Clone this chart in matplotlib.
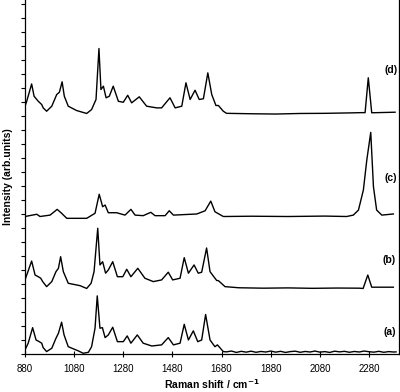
import numpy as np
from matplotlib import pyplot as plt

plt.rcParams['font.family'] = ['Liberation Sans', 'DejaVu Sans']

# Spectre (a)
wn_a = [880, 893, 911, 925, 938, 948, 954, 968, 989, 1006, 1016, 1029, 1039, 1056, 1097, 1117, 1138,
        1151, 1165, 1174, 1185, 1195, 1206, 1219, 1237, 1256, 1280, 1296, 1311, 1337, 1361, 1396,
        1436, 1463, 1484, 1511, 1528, 1545, 1565, 1583, 1599, 1615, 1633, 1653, 1663, 1687,
        1700, 1720, 1740, 1760, 1780, 1800, 1820, 1840, 1860, 1880, 1900, 1920, 1940, 1960, 1980,
        2000, 2020, 2040, 2060, 2080, 2100, 2120, 2140, 2160, 2180, 2200, 2220, 2240, 2260, 2280,
        2300, 2320, 2340, 2360, 2380, 2390]
I_a = [0.18, 0.66, 1.77, 0.89, 0.77, 0.66, 0.34, 0.06, 0.30, 1.01, 1.37, 2.16, 1.25, 0.41, 0.11, -0.06, 0.01,
       0.41, 1.73, 4.04, 1.73, 1.77, 1.06, 1.25, 1.80, 0.77, 0.77, 1.18, 0.66, 1.25, 0.66, 0.46,
       0.54, 1.06, 0.54, 0.66, 2.01, 0.89, 1.54, 0.77, 0.89, 2.71, 0.89, 0.41, 0.54, 0.06,
       0.04, 0.10, 0.00, 0.08, 0.02, 0.09, 0.01, 0.07, 0.03, 0.10, 0.02, 0.08, 0.00, 0.06, 0.09,
       0.01, 0.07, 0.03, 0.10, 0.02, 0.06, 0.00, 0.09, 0.04, 0.08, 0.01, 0.07, 0.03, 0.10, 0.05,
       0.02, 0.08, 0.01, 0.06, 0.03, 0.04]

# Spectre (b)
wn_b = [880, 907, 921, 934, 944, 952, 968, 989, 1006, 1016, 1025, 1036, 1056, 1104, 1131, 1149, 1161,
        1176, 1185, 1196, 1208, 1219, 1237, 1256, 1278, 1294, 1311, 1339, 1368, 1402, 1436, 1463,
        1481, 1511, 1528, 1545, 1568, 1585, 1599, 1619, 1633, 1660, 1667, 1694, 1750, 1850, 1950,
        2050, 2150, 2240, 2256, 2275, 2291, 2379]
I_b = [0.61, 1.96, 0.96, 0.84, 0.73, 0.49, 0.13, 0.49, 1.20, 1.44, 2.27, 1.20, 0.37, 0.20, 0.00, 0.37, 1.20,
       4.30, 1.68, 1.91, 1.09, 1.32, 1.91, 0.84, 0.84, 1.37, 0.84, 1.44, 0.73, 0.49, 0.61, 1.16,
       0.61, 0.73, 2.20, 1.09, 1.68, 1.09, 1.16, 2.89, 1.20, 0.57, 0.56, 0.13, 0.05, 0.02, 0.04,
       0.01, 0.03, 0.02, 0.00, 0.96, 0.09, 0.09]

# Spectre (c)
wn_c = [880, 928, 941, 982, 1011, 1029, 1050, 1131, 1165, 1182, 1196, 1206, 1219, 1253, 1287, 1311,
        1328, 1361, 1392, 1409, 1450, 1467, 1484, 1579, 1613, 1636, 1653, 1687, 1800, 1950, 2100,
        2189, 2216, 2237, 2257, 2271, 2287, 2298, 2311, 2332, 2379]
I_c = [0.00, 0.16, 0.00, 0.10, 0.51, 0.23, -0.13, -0.13, 0.23, 1.59, 0.70, 0.82, 0.27, 0.27, 0.10, 0.51,
       0.10, 0.06, 0.30, 0.06, 0.06, 0.41, 0.10, 0.18, 0.41, 1.10, 0.34, 0.00, 0.02, 0.00, 0.03,
       0.00, 0.10, 0.46, 1.89, 4.04, 6.01, 2.13, 0.46, 0.10, 0.18]

# Spectre (d)
wn_d = [880, 887, 907, 917, 934, 948, 954, 968, 989, 1009, 1020, 1031, 1040, 1056, 1090, 1131, 1151,
        1169, 1181, 1189, 1199, 1210, 1223, 1239, 1260, 1280, 1298, 1314, 1345, 1375, 1416, 1436,
        1470, 1491, 1518, 1535, 1552, 1572, 1589, 1606, 1624, 1640, 1657, 1667, 1687, 1700, 1800,
        1900, 2000, 2100, 2200, 2250, 2264, 2277, 2291, 2386]
I_d = [0.56, 0.91, 2.15, 1.27, 0.91, 0.68, 0.44, 0.20, 0.56, 1.39, 1.56, 2.30, 1.27, 0.56, 0.25, 0.04, 0.32,
       1.04, 4.68, 1.75, 1.99, 1.16, 1.27, 1.99, 0.91, 0.84, 1.34, 0.80, 1.23, 0.56, 0.44, 0.44,
       1.16, 0.44, 0.56, 2.23, 1.04, 1.70, 1.04, 1.09, 2.94, 1.39, 0.61, 0.61, 0.20, 0.05, 0.02,
       0.00, 0.04, 0.05, 0.08, 0.10, 0.10, 2.59, 0.09, 0.13]

labels = ["(a)", "(b)", "(c)", "(d)"]
offsets = [0.11, 4.68, 9.82, 17.14]
xticks = [880, 1080, 1280, 1480, 1680, 1880, 2080, 2280]

fig = plt.figure(figsize=(4.0, 3.92), dpi=100)
ax = fig.add_axes([0.0625, 0.097, 0.935, 0.903])

spectres = [(wn_a, I_a), (wn_b, I_b), (wn_c, I_c), (wn_d, I_d)]
for (wn, I), off in zip(spectres, offsets):
    ax.plot(wn, np.array(I) + off, color="black", lw=1.0)

# Étiquettes des spectres
label_pos = [(2390, 1.55), (2390, 6.7), (2395, 12.6), (2395, 20.3)]
for lab, (xl, yl) in zip(labels, label_pos):
    ax.text(xl, yl, lab, ha="right", va="center", fontsize=7.5, fontweight="bold")

ax.set_xlim(880, 2402)
ax.set_ylim(0, 354 / 14)
ax.set_xticks(xticks)
ax.set_yticks(np.arange(0, 26, 1))
ax.set_yticklabels([])
ax.tick_params(axis="x", direction="inout", length=4, width=0.8, labelsize=7, pad=5)
ax.tick_params(axis="y", direction="out", length=3, width=0.8)
ax.spines["top"].set_visible(False)
for s in ["left", "bottom", "right"]:
    ax.spines[s].set_linewidth(0.9)

ax.set_xlabel("Raman shift / cm$^{\\mathbf{-1}}$", fontsize=7.5, fontweight="bold", va="center")
ax.xaxis.set_label_coords(0.5, -0.085)
ax.set_ylabel("Intensity (arb.units)", fontsize=7.5, fontweight="bold", labelpad=2)

fig.savefig("out.png", dpi=100)
